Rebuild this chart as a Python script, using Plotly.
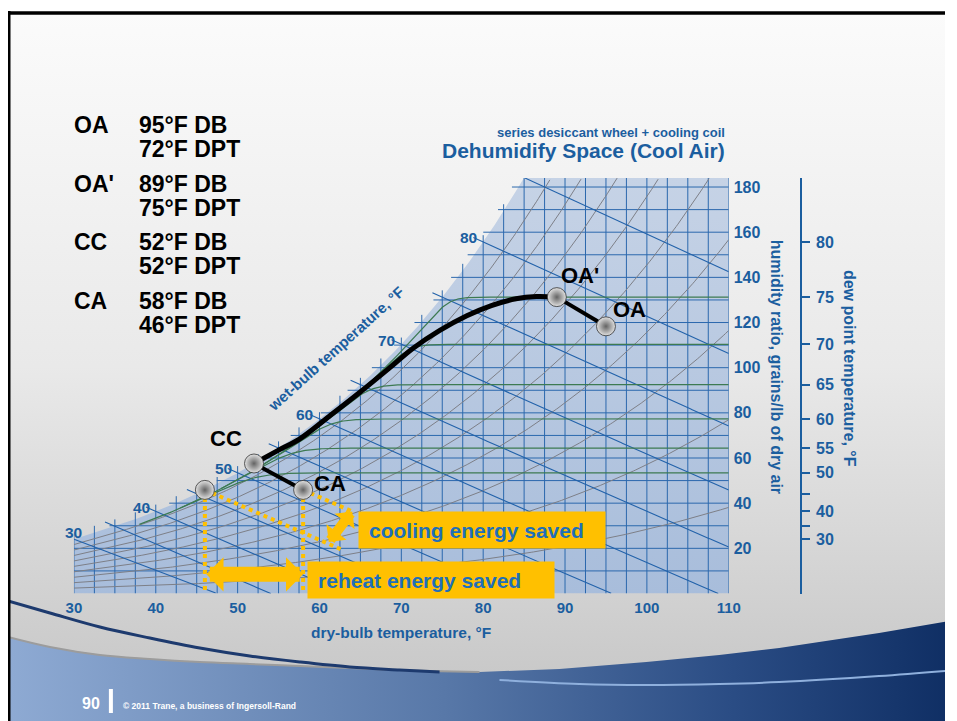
import numpy as np
import plotly.graph_objects as go

# ---------------- state points ----------------
state_names = ["OA", "OA'", "CC", "CA"]
state_db = [95, 89, 52, 58]          # dry bulb, °F
state_dpt = [72, 75, 52, 46]         # dew point, °F
label_shift_x = [24, 23, -28, 27]
label_shift_y = [17, 22, 25, 6]

# cooling-coil path between CC and OA' (dry bulb °F, grains/lb)
coil_db_mid = [55, 57.6, 61.2, 64.9, 68.6, 71.4, 74.7, 78.0, 81.0, 84.0, 86.5]
coil_w_mid = [63.5, 68.5, 78.5, 89.0, 100.0, 108.5, 116.5, 123.0, 127.5, 130.5, 131.5]

# ---------------- chart scales ----------------
db_ticks = [30, 40, 50, 60, 70, 80, 90, 100, 110]
w_ticks = [20, 40, 60, 80, 100, 120, 140, 160, 180]
dpt_ticks = [30, 35, 40, 45, 50, 55, 60, 65, 70, 75, 80]
dpt_text = ["30", "", "40", "", "50", "55", "60", "65", "70", "75", "80"]
wb_values = [30, 35, 40, 45, 50, 55, 60, 65, 70, 75, 80, 85]
wb_labels = [30, 40, 50, 60, 70, 80]
rh_values = [0.1, 0.2, 0.3, 0.4, 0.5, 0.6, 0.7, 0.8, 0.9]
green_dpt = [50, 55, 60, 65, 70, 75]
W_TOP = 184

# ---------------- colours / fonts ----------------
BLUE = "#1b5e9f"
GRID = "#2b68ad"
YEL = "#ffc000"
FONT = "Liberation Sans, Arial, sans-serif"

# page frame: horizontal screen span covered by the figure
PX0, PX1 = 8, 946

P_ATM = 14.696


def pws(t):
    t = np.asarray(t, dtype=float)
    T = t + 459.67
    water = np.exp(-1.0440397e4 / T - 1.1294650e1 - 2.7022355e-2 * T
                   + 1.2890360e-5 * T ** 2 - 2.4780681e-9 * T ** 3
                   + 6.5459673 * np.log(T))
    ice = np.exp(-1.0214165e4 / T - 4.8932428 - 5.3765794e-3 * T
                 + 1.9202377e-7 * T ** 2 + 3.5575832e-10 * T ** 3
                 - 9.0344688e-14 * T ** 4 + 4.1635019 * np.log(T))
    return np.where(t >= 32, water, ice)


def w_gr(t, rh=1.0):
    p = rh * pws(t)
    return 7000 * 0.621945 * p / (P_ATM - p)


_tg = np.linspace(0, 140, 14001)
_wg = w_gr(_tg)


def t_dew(w):
    return np.interp(w, _wg, _tg)


def wb_line(t, twb):
    t = np.asarray(t, dtype=float)
    ws = float(w_gr(twb)) / 7000
    if twb >= 32:
        w = ((1093 - 0.556 * twb) * ws - 0.240 * (t - twb)) / (1093 + 0.444 * t - twb)
    else:
        w = ((1220 - 0.04 * twb) * ws - 0.240 * (t - twb)) / (1220 + 0.444 * t - 0.48 * twb)
    return 7000 * w


def wet_bulb(t, w):
    grid = np.linspace(20, t, 4001)
    vals = np.array([float(wb_line(t, g)) for g in grid])
    return float(np.interp(w, vals, grid))


def fx(px):
    return (px - PX0) / (PX1 - PX0)


state_w = [float(w_gr(d)) for d in state_dpt]

fig = go.Figure()

# ================= slide background (pixel subplot) =================
fig.add_trace(go.Scatter(
    x=[8, 957, 957, 8, 8], y=[12, 12, 721, 721, 12], mode="lines",
    fill="toself", line=dict(width=0),
    fillgradient=dict(type="vertical", start=12, stop=721,
                      colorscale=[[0, "#fbfbfb"], [0.5, "#e9e9e9"], [1, "#c4c4c4"]]),
    hoverinfo="skip"))

band_x = [8, 50, 100, 150, 200, 250, 300, 350, 400, 480, 560, 647, 720, 780, 880, 957]
band_y = [637, 647, 655, 659, 662, 664, 666, 668, 670, 672, 669, 662, 655, 648, 633, 620]
fig.add_trace(go.Scatter(
    x=band_x + [957, 8], y=band_y + [721, 721], mode="lines", fill="toself",
    line=dict(width=0),
    fillgradient=dict(type="horizontal", start=8, stop=957,
                      colorscale=[[0, "#8eaad3"], [0.45, "#5878a8"],
                                  [0.75, "#2a4c84"], [1, "#0c2b60"]]),
    hoverinfo="skip"))
fig.add_trace(go.Scatter(x=band_x[:10], y=band_y[:10], mode="lines",
                         line=dict(color="#9c9c9c", width=2, shape="spline"),
                         hoverinfo="skip"))
fig.add_trace(go.Scatter(
    x=[8, 50, 100, 150, 200, 250, 300, 350, 400, 440],
    y=[601, 613, 627, 638, 648, 656, 662, 667, 670, 672], mode="lines",
    line=dict(color="#1d3a6e", width=3, shape="spline"), hoverinfo="skip"))
fig.add_trace(go.Scatter(
    x=[500, 580, 647, 720, 780, 880, 957], y=[680, 684, 685, 684, 682, 676, 670],
    mode="lines", line=dict(color="#8fb0dd", width=2, shape="spline"),
    hoverinfo="skip"))

# ================= psychrometric chart (x2 / y2) =================
pc = dict(xaxis="x2", yaxis="y2", hoverinfo="skip", showlegend=False)

t_top = float(t_dew(W_TOP))
ts = np.linspace(30, t_top, 200)
fig.add_trace(go.Scatter(
    x=[30] + list(ts) + [110, 110, 30], y=[0] + list(w_gr(ts)) + [W_TOP, 0, 0],
    mode="lines", fill="toself", line=dict(width=0),
    fillgradient=dict(type="vertical", start=0, stop=W_TOP,
                      colorscale=[[0, "#a8bddb"], [1, "#c6d3e6"]]), **pc))

# dry-bulb and humidity-ratio grid, stopping just past saturation
gx, gy = [], []
for t in np.arange(30, 110.01, 2.5):
    gx += [t, t, None]
    gy += [0, min(float(w_gr(t)) + 3, W_TOP), None]
for w in range(10, 181, 10):
    gx += [max(30, float(t_dew(w)) - 0.8), 110, None]
    gy += [w, w, None]
fig.add_trace(go.Scatter(x=gx, y=gy, mode="lines", line=dict(color=GRID, width=1), **pc))

# relative humidity curves
rx, ry = [], []
tt = np.linspace(30, 110, 400)
for rh in rh_values:
    w = w_gr(tt, rh)
    m = w <= W_TOP
    rx += list(tt[m]) + [None]
    ry += list(w[m]) + [None]
fig.add_trace(go.Scatter(x=rx, y=ry, mode="lines", line=dict(color="#7d7f87", width=1), **pc))

# wet-bulb lines
bx, by = [], []
for twb in wb_values:
    t = np.linspace(twb - 1.2, 110, 400)
    w = wb_line(t, twb)
    m = (w >= 0) & (w <= W_TOP) & (t >= 30)
    bx += list(t[m]) + [None]
    by += list(w[m]) + [None]
fig.add_trace(go.Scatter(x=bx, y=by, mode="lines", line=dict(color="#2262aa", width=1.1), **pc))

# green dew-point curves
qx, qy = [], []
for dp in green_dpt:
    wend = float(w_gr(dp))
    t = np.linspace(max(30, dp - 12), 110, 400)
    a = w_gr(t) - 3
    k = 4.0
    w = -k * np.log(np.exp(-a / k) + np.exp(-wend / k))
    qx += list(t) + [None]
    qy += list(w) + [None]
fig.add_trace(go.Scatter(x=qx, y=qy, mode="lines", line=dict(color="#3d7a52", width=1.2), **pc))

# ---- energy-saving construction lines ----
db_ca, w_ca = state_db[3], state_w[3]
dp_ca = state_dpt[3]
w_dp_ca = float(w_gr(dp_ca))
wb_ca = wet_bulb(db_ca, w_ca)
t1 = np.linspace(dp_ca, 62.8, 40)
t2 = np.linspace(db_ca, 64.0, 30)
dot_x = [dp_ca, dp_ca, None, db_ca, db_ca, None] + list(t1) + [None] + list(t2)
dot_y = [w_dp_ca, 0.5, None, w_ca, 0.5, None] + list(wb_line(t1, dp_ca)) + [None] + list(wb_line(t2, wb_ca))
fig.add_trace(go.Scatter(x=dot_x, y=dot_y, mode="lines",
                         line=dict(color=YEL, width=4, dash="dot"), **pc))

# ---- process lines ----
coil_x = [state_db[2]] + coil_db_mid + [state_db[1]]
coil_y = [state_w[2]] + coil_w_mid + [state_w[1]]
fig.add_trace(go.Scatter(x=coil_x, y=coil_y, mode="lines",
                         line=dict(color="black", width=5, shape="spline", smoothing=1.0), **pc))
fig.add_trace(go.Scatter(x=[state_db[1], state_db[0], None, state_db[2], state_db[3]],
                         y=[state_w[1], state_w[0], None, state_w[2], state_w[3]],
                         mode="lines", line=dict(color="black", width=4), **pc))

# ---- state spheres ----
fig.add_trace(go.Scatter(
    x=state_db + [dp_ca], y=state_w + [w_dp_ca], mode="markers",
    marker=dict(size=19, color="#e2e2e2", gradient=dict(type="radial", color="#636363"),
                line=dict(color="#333333", width=0.8)), **pc))

# dew-point scale carrier
dpt_w = [float(w_gr(d)) for d in dpt_ticks]
fig.add_trace(go.Scatter(x=[110] * len(dpt_w), y=dpt_w, xaxis="x2", yaxis="y3",
                         mode="markers", marker=dict(opacity=0), hoverinfo="skip",
                         showlegend=False))

# ================= layout =================
tickfont15 = dict(family=FONT, size=15, color=BLUE, weight="bold")
tickfont16 = dict(family=FONT, size=16, color=BLUE, weight="bold")
fig.update_layout(
    width=957, height=721, margin=dict(l=0, r=0, t=0, b=0),
    paper_bgcolor="white", plot_bgcolor="rgba(0,0,0,0)", showlegend=False,
    xaxis=dict(domain=[0, 1], range=[PX0, PX1], visible=False, fixedrange=True),
    yaxis=dict(domain=[0, 1], range=[721, 0], visible=False, fixedrange=True),
    xaxis2=dict(domain=[fx(74), fx(729.5)], range=[30, 110], anchor="y2",
                showgrid=False, zeroline=False, showline=False, ticks="",
                tickvals=db_ticks, tickfont=tickfont15, ticklabelstandoff=3),
    yaxis2=dict(domain=[1 - 593.5 / 721, 1 - 178 / 721], range=[0, W_TOP], anchor="x2",
                side="right", showgrid=False, zeroline=False, showline=False, ticks="",
                tickvals=w_ticks, tickfont=tickfont16, ticklabelstandoff=4),
    yaxis3=dict(overlaying="y2", anchor="free", position=fx(802), side="right",
                range=[0, W_TOP], showgrid=False, zeroline=False, showline=True,
                linecolor=BLUE, linewidth=1.5, ticks="outside", ticklen=8,
                tickwidth=1.5, tickcolor=BLUE, tickvals=dpt_w, ticktext=dpt_text,
                tickfont=tickfont16, ticklabelstandoff=3),
)

ann = []


def txt(x, y, s, size, color=BLUE, xa="center", ya="middle", angle=0, ref="x"):
    ann.append(dict(x=x, y=y, xref=ref, yref=ref.replace("x", "y"), text=s,
                    showarrow=False, xanchor=xa, yanchor=ya, textangle=angle,
                    font=dict(family=FONT, size=size, color=color, weight="bold")))


# condition summary
summary = [("OA", "95°F DB", "72°F DPT", 125),
           ("OA'", "89°F DB", "75°F DPT", 184),
           ("CC", "52°F DB", "52°F DPT", 242),
           ("CA", "58°F DB", "46°F DPT", 301)]
for name, l1, l2, yy in summary:
    txt(72, yy, name, 23, "black", xa="left")
    txt(137, yy, l1, 23, "black", xa="left")
    txt(137, yy + 24, l2, 23, "black", xa="left")

txt(728, 132, "series desiccant wheel + cooling coil", 13, xa="right")
txt(728, 150, "Dehumidify Space (Cool Air)", 21, xa="right")
txt(401, 632, "dry-bulb temperature, °F", 15.5)
txt(778, 367, "humidity ratio, grains/lb of dry air", 16, angle=90)
txt(851, 368, "dew point temperature, °F", 16, angle=90)

# wet-bulb scale
for v in wb_labels:
    a = dict(x=v, y=float(w_gr(v)), xref="x2", yref="y2", text=str(v), showarrow=False,
             xanchor="right", yanchor="middle", xshift=-4, yshift=4,
             font=dict(family=FONT, size=15.5, color=BLUE, weight="bold"))
    if v == 30:
        a.update(xanchor="center", xshift=0, yshift=7)
    ann.append(a)
ann.append(dict(x=62.0, y=108.7, xref="x2", yref="y2", text="wet-bulb temperature, °F",
                showarrow=False, textangle=-42,
                font=dict(family=FONT, size=15, color=BLUE, weight="bold")))

# state labels
for n, d, w, sx, sy in zip(state_names, state_db, state_w, label_shift_x, label_shift_y):
    ann.append(dict(x=d, y=w, xref="x2", yref="y2", text=n, showarrow=False,
                    xshift=sx, yshift=sy,
                    font=dict(family=FONT, size=22, color="black", weight="bold")))

# energy boxes
for x0, y0, s in [(358, 511, "cooling energy saved"), (307, 561, "reheat energy saved")]:
    ann.append(dict(x=x0, y=y0, xref="x", yref="y", xanchor="left", yanchor="top",
                    text="\u00a0\u2009" + s, showarrow=False, width=246, height=36,
                    borderpad=0, bgcolor=YEL, align="left", valign="middle",
                    font=dict(family=FONT, size=21, color="#1f6fb8", weight="bold")))

# arrows
ann.append(dict(x=db_ca, y=8.5, ax=dp_ca, ay=8.5, xref="x2", yref="y2", axref="x2",
                ayref="y2", text="", showarrow=True, arrowside="end+start",
                arrowhead=1, startarrowhead=1, arrowsize=0.38, startarrowsize=0.38,
                arrowwidth=15, arrowcolor=YEL, standoff=0, startstandoff=0))
ann.append(dict(x=64.0, y=float(wb_line(64.0, wb_ca)), ax=61.0,
                ay=float(wb_line(61.0, dp_ca)), xref="x2", yref="y2", axref="x2",
                ayref="y2", text="", showarrow=True, arrowside="end+start",
                arrowhead=1, startarrowhead=1, arrowsize=0.42, startarrowsize=0.42,
                arrowwidth=10, arrowcolor=YEL, standoff=0, startstandoff=0))

# footer
txt(91, 703, "90", 16, "white")
txt(121, 706, "© 2011 Trane, a business of Ingersoll-Rand", 8.5, "white", xa="left")

fig.update_layout(annotations=ann, shapes=[
    dict(type="line", xref="x", yref="y", x0=8, x1=957, y0=13, y1=13,
         line=dict(color="black", width=3.5)),
    dict(type="line", xref="x", yref="y", x0=9, x1=9, y0=11, y1=721,
         line=dict(color="black", width=3)),
    dict(type="line", xref="x", yref="y", x0=111, x1=111, y0=689, y1=713,
         line=dict(color="white", width=4)),
])

fig.write_html("out.html")
